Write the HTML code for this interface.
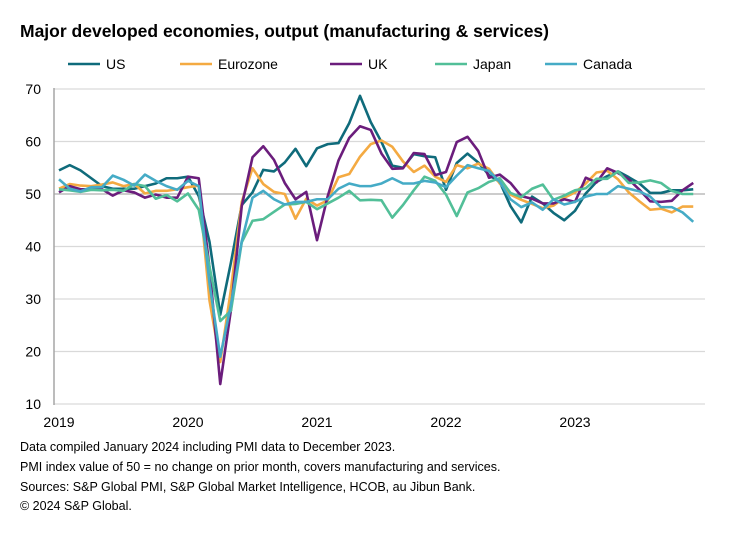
<!DOCTYPE html>
<html><head><meta charset="utf-8"><style>
body{margin:0;background:#fff;font-family:"Liberation Sans",Arial,sans-serif;}
svg{display:block}
</style></head><body>
<svg id="chart" width="742" height="535">
<text x="20" y="37" font-size="17.5" font-weight="bold" fill="#000">Major developed economies, output (manufacturing &amp; services)</text>
<g id="legend"></g>
<g id="grid"></g>
<g id="series"></g>
<g id="axes"></g>
<g font-size="12.5" fill="#000">
<text x="20" y="451">Data compiled January 2024 including PMI data to December 2023.</text>
<text x="20" y="471">PMI index value of 50 = no change on prior month, covers manufacturing and services.</text>
<text x="20" y="491">Sources: S&amp;P Global PMI, S&amp;P Global Market Intelligence, HCOB, au Jibun Bank.</text>
<text x="20" y="510">© 2024 S&amp;P Global.</text>
</g>
</svg>
<script>
const seriesNames = ["US","Eurozone","UK","Japan","Canada"];
const yTicks = [10,20,30,40,50,60,70];
const xLabels = ["2019","2020","2021","2022","2023"];
const us = [54.5,55.5,54.5,53,51.5,51,51,51,51.5,52,53,53, 53.3,49.6,40.9,27,37,47.9,50.3,54.6,54.3,56,58.6,55.3, 58.7,59.5,59.7,63.5,68.7,63.7,59.9,55.4,55,57.6,57.2,57.0, 50.8,55.9,57.7,56,53.6,52.3,47.7,44.6,49.5,48.2,46.4,45, 46.8,50.1,52.3,53.4,54.3,53.2,52,50.2,50.2,50.7,50.7,50.9];
const eurozone = [51,51.9,51.6,51.5,51.8,52.2,51.5,51.9,50.1,50.6,50.6,50.9, 51.3,51.6,29.7,18,31.9,48.5,54.9,51.9,50.4,50,45.3,49.1, 47.8,48.8,53.2,53.8,57.1,59.5,60.2,59,56.2,54.2,55.4,53.3, 52.3,55.5,54.9,55.8,54.8,52,49.9,48.9,48.1,47.3,47.8,49.3, 50.3,52,54.1,54.4,52.8,50.3,48.6,47,47.2,46.5,47.6,47.6];
const uk = [50.3,51.5,50.9,50.9,50.9,49.7,50.7,50.3,49.3,49.9,49.3,49.3, 53.3,53,36,13.8,28,47.7,57,59.1,56.5,52.1,49,50.4, 41.2,49.6,56.4,60.7,62.9,62.2,57.7,54.8,54.9,57.8,57.6,53.6, 54.2,59.9,60.9,58.2,53.1,53.7,52.1,49.6,49.1,48.2,48.2,49, 48.5,53.1,52.2,54.9,54,52.8,50.8,48.6,48.5,48.7,50.7,52.1];
const japan = [50.9,50.7,50.4,50.8,50.7,50.8,50.6,51.9,51.5,49.1,49.8,48.6, 50.1,47,36.2,25.8,27.8,40.8,44.9,45.2,46.6,48,48.1,48.5, 47.1,48.2,49.3,50.6,48.8,48.9,48.8,45.5,47.9,50.7,53.3,52.5, 49.9,45.8,50.3,51.1,52.3,53,50.2,49.4,51,51.8,48.9,49.7, 50.7,51.1,52.9,52.9,54.3,52.1,52.2,52.6,52.1,50.6,50,50];
const canada = [52.8,51,50.5,51.3,51.3,53.5,52.7,51.6,53.7,52.5,51.5,50.8, 52.5,51.5,33,19,29,41,49.3,50.6,49,48,48.5,48.5, 49,49,51,52,51.5,51.5,52,53,52,52,52.5,52.2, 51.3,53.5,55.5,54.9,54.4,52.3,49,47.5,48.4,47,49,48, 48.5,49.5,50,50,51.5,51,50.5,49.5,47.5,47.5,46.5,44.7];

const colors = ["#0f6b7b","#f4aa42","#6b1d7c","#52bf98","#45abc6"];
const allSeries = [us,eurozone,uk,japan,canada];
const NS="http://www.w3.org/2000/svg";
const X0=59, XSTEP=10.75, Y0=404, YPX=5.25, LEFT=54, RIGHT=705;
function xs(i){return X0+i*XSTEP;}
function ys(v){return Y0-(v-10)*YPX;}
function mk(tag,attrs,parent){const e=document.createElementNS(NS,tag);for(const k in attrs)e.setAttribute(k,attrs[k]);parent.appendChild(e);return e;}
const grid=document.getElementById('grid'), axes=document.getElementById('axes'), ser=document.getElementById('series'), leg=document.getElementById('legend');
yTicks.forEach(t=>{
  const l=mk('line',{x1:LEFT,x2:RIGHT,y1:ys(t),y2:ys(t),stroke:t===50?'#999':'#d9d9d9','stroke-width':t===50?1:1.2},grid);
  
  
  const tx=mk('text',{x:LEFT-13,y:ys(t)+5,'text-anchor':'end','font-size':14,fill:'#000'},axes);
  tx.textContent=t;
  
  
});
const ax=mk('line',{x1:LEFT,x2:LEFT,y1:ys(70)-1,y2:ys(10)+1,stroke:'#a6a6a6','stroke-width':1.5},axes);


xLabels.forEach((lab,i)=>{
  const tx=mk('text',{x:xs(i*12),y:427,'text-anchor':'middle','font-size':14,fill:'#000'},axes);
  tx.textContent=lab;
  
  
});
allSeries.forEach((arr,s)=>{
  const p=mk('polyline',{points:arr.map((v,i)=>xs(i)+','+ys(v)).join(' '),fill:'none',stroke:colors[s],'stroke-width':2.6,'stroke-linejoin':'round'},ser);
  
  
});
const legX=[68,180,330,435,545];
seriesNames.forEach((n,s)=>{
  const l=mk('line',{x1:legX[s],x2:legX[s]+32,y1:64,y2:64,stroke:colors[s],'stroke-width':2.6},leg);
  
  
  const t=mk('text',{x:legX[s]+38,y:69,'font-size':14,fill:'#000'},leg);
  t.textContent=n;
  
  
});
</script>
</body></html>
